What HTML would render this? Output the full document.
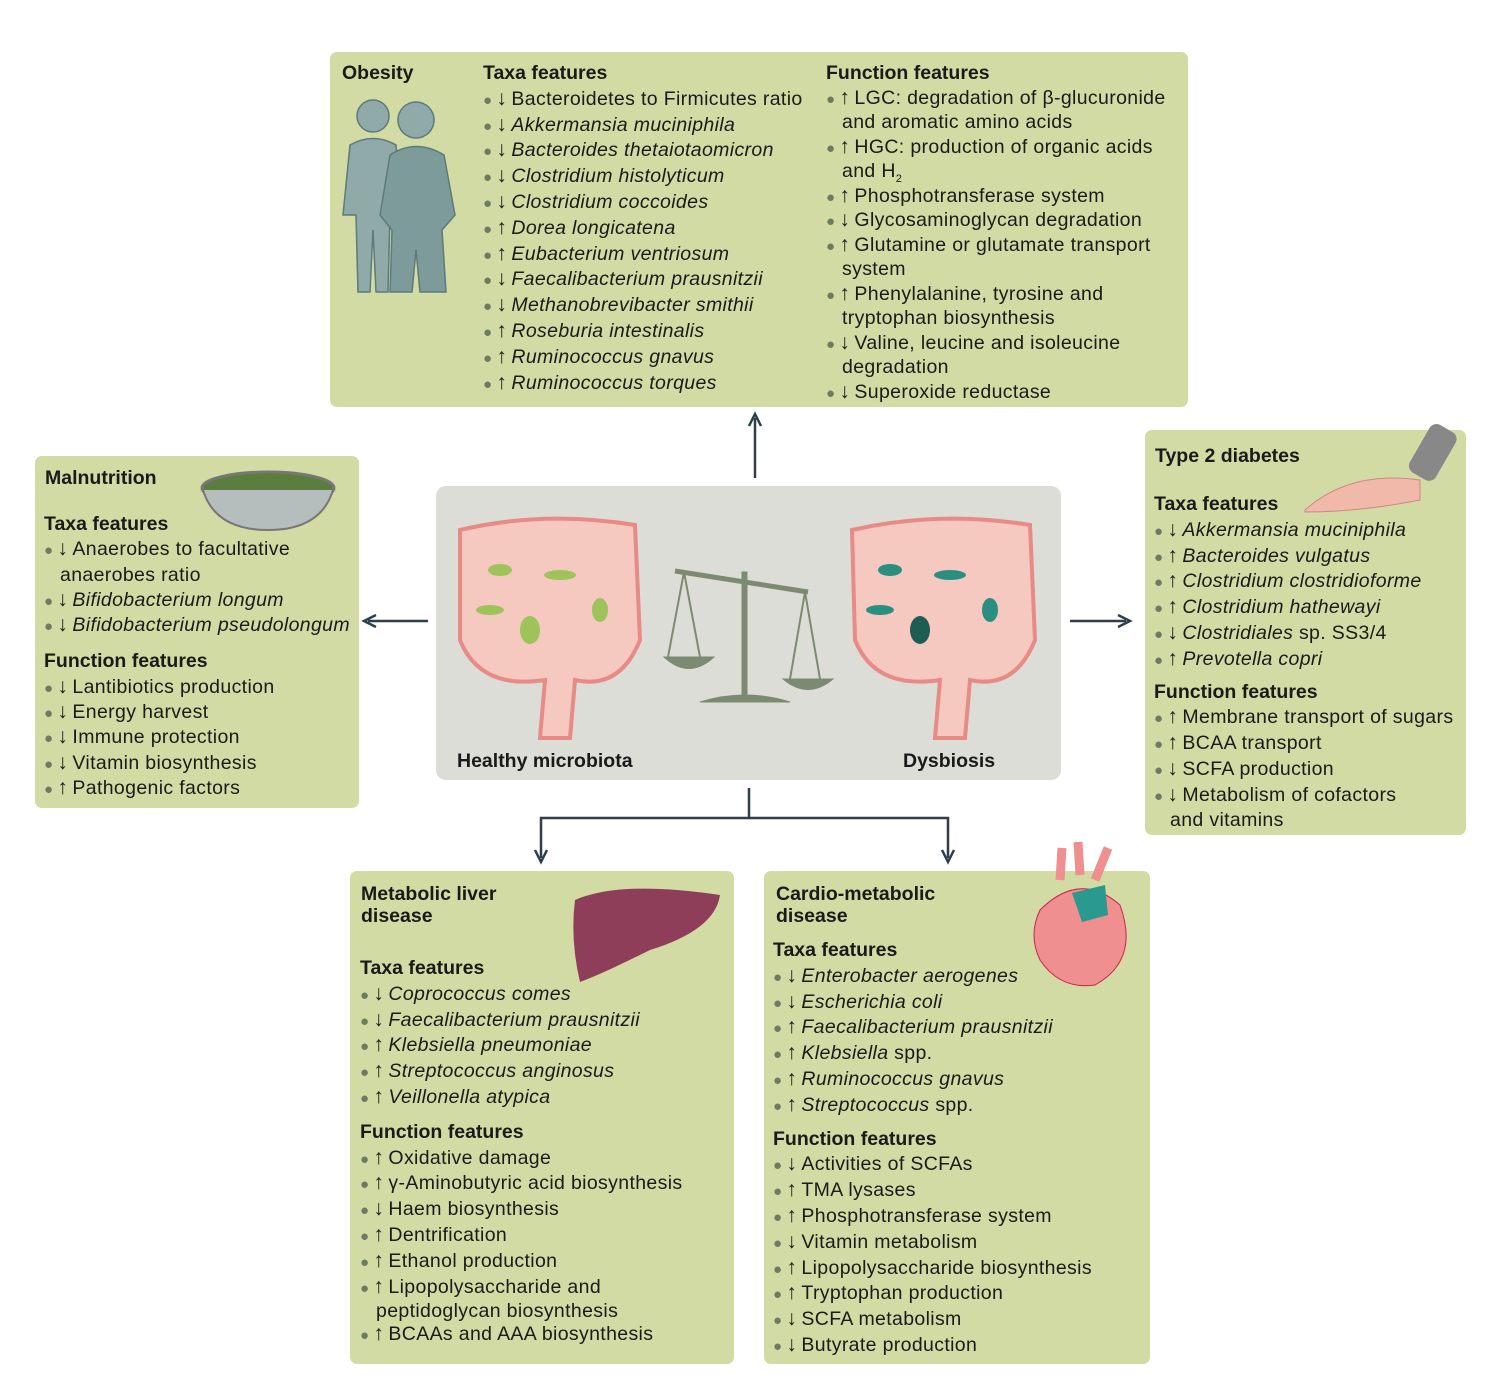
<!DOCTYPE html>
<html><head><meta charset="utf-8"><style>
body{margin:0;width:1488px;height:1384px;background:#fff;position:relative;font-family:"Liberation Sans",sans-serif;color:#1a1a1a;overflow:hidden}
.box{position:absolute;background:#d2dba3;border-radius:7px}
.col{position:absolute;font-size:19.5px;letter-spacing:0.35px;white-space:nowrap}
.col>div{height:var(--lh);line-height:var(--lh);overflow:visible}
.h{font-weight:bold;letter-spacing:0}
.b{color:#6f7a63;margin-right:4px;font-size:15px}
.a{display:inline-block;width:15px;font-size:21px;line-height:0}
.c{padding-left:16px}
.s{--lh:22px}
i{font-style:italic}
svg{position:absolute}
</style></head><body>
<div class="box" style="left:330px;top:52px;width:858px;height:355px"></div>
<div class="box" style="left:35px;top:456px;width:324px;height:352px"></div>
<div class="box" style="left:1145px;top:430px;width:321px;height:405px"></div>
<div class="box" style="left:350px;top:871px;width:384px;height:493px"></div>
<div class="box" style="left:764px;top:871px;width:386px;height:493px"></div>
<div style="position:absolute;left:436px;top:486px;width:625px;height:294px;background:#dcddd6;border-radius:10px"></div>

<svg width="1488" height="1384" style="left:0;top:0">
<g stroke="#2d3f48" stroke-width="2.5" fill="none">
<line x1="755" y1="478" x2="755" y2="418"/><polyline points="749,426 755,414 761,426"/>
<line x1="428" y1="621" x2="368" y2="621"/><polyline points="376,615 364,621 376,627"/>
<line x1="1070" y1="621" x2="1126" y2="621"/><polyline points="1118,615 1130,621 1118,627"/>
<polyline points="749,788 749,818 541,818 541,858"/><polyline points="749,818 948,818 948,858"/>
<polyline points="535,850 541,862 547,850"/><polyline points="942,850 948,862 954,850"/>
</g>
<g fill="#8faaa8" stroke="#5d7a7c" stroke-width="1.5">
<circle cx="373" cy="116" r="16"/><path d="M350 145 Q373 132 396 145 L402 215 L390 215 L388 292 L376 292 L373 230 L370 292 L358 292 L356 215 L343 215 Z"/>
<circle cx="416" cy="120" r="18"/><path d="M390 155 Q416 138 444 155 L455 215 L442 230 L446 292 L420 292 L416 250 L412 292 L390 292 L392 230 L380 215 Z" fill="#7e9b9c"/>
</g>
<ellipse cx="268" cy="488" rx="66" ry="16" fill="#5b7d3e" stroke="#777" stroke-width="3"/>
<path d="M203 490 Q215 530 268 530 Q321 530 333 490" fill="#b6bdbd" stroke="#777" stroke-width="2"/>
<path d="M1305 510 Q1350 470 1420 480 L1420 500 Q1360 512 1305 512 Z" fill="#f0b9a9" stroke="#c88" stroke-width="1"/>
<rect x="1418" y="425" width="30" height="55" rx="8" fill="#888" transform="rotate(30 1433 452)"/>
<path d="M575 900 Q620 880 720 895 Q715 930 650 950 Q600 975 580 982 Q570 940 575 900 Z" fill="#8f3e5a"/>
<path d="M1040 910 Q1080 870 1120 905 Q1140 960 1095 985 Q1060 990 1040 960 Q1028 935 1040 910 Z" fill="#ef8f8f" stroke="#c25" stroke-width="1"/>
<path d="M1060 880 L1062 848 M1080 875 L1078 842 M1095 880 L1108 848" stroke="#ef8f8f" stroke-width="9"/>
<path d="M1072 893 L1105 885 L1108 915 L1082 922 Z" fill="#2a9a8e"/>
<g fill="#f5c8c0" stroke="#e88a86" stroke-width="4">
<path d="M460 530 Q545 510 635 525 L640 640 Q620 690 575 680 L570 738 L540 738 L545 680 Q480 690 460 640 Z"/>
<path d="M852 530 Q940 510 1030 525 L1035 640 Q1015 690 970 680 L965 738 L935 738 L940 680 Q875 690 855 640 Z"/>
</g>
<g fill="#9ec35a"><ellipse cx="500" cy="570" rx="12" ry="6"/><ellipse cx="560" cy="575" rx="16" ry="5"/><ellipse cx="600" cy="610" rx="8" ry="12"/><ellipse cx="530" cy="630" rx="10" ry="14"/><ellipse cx="490" cy="610" rx="14" ry="5"/></g>
<g fill="#2a8f80"><ellipse cx="890" cy="570" rx="12" ry="6"/><ellipse cx="950" cy="575" rx="16" ry="5"/><ellipse cx="990" cy="610" rx="8" ry="12"/><ellipse cx="920" cy="630" rx="10" ry="14" fill="#1e5e52"/><ellipse cx="880" cy="610" rx="14" ry="5"/></g>
<g fill="#7d8a72" stroke="#7d8a72">
<line x1="675" y1="571" x2="808" y2="592" stroke-width="5"/><rect x="742" y="572" width="5" height="130"/>
<path d="M700 702 Q745 688 790 702 Z"/>
<path d="M664 657 Q689 680 714 657 Z"/><path d="M783 679 Q808 700 833 679 Z"/>
<line x1="684" y1="572" x2="668" y2="657" stroke-width="2"/><line x1="684" y1="572" x2="700" y2="657" stroke-width="2"/>
<line x1="805" y1="592" x2="790" y2="679" stroke-width="2"/><line x1="805" y1="592" x2="820" y2="679" stroke-width="2"/>
</g>
</svg>

<div class="col" style="left:342px;top:60px;--lh:26px"><div class="h">Obesity</div></div>
<div class="col" style="left:483px;top:61px;--lh:25.8px">
<div class="h">Taxa features</div>
<div><span class="b">●</span><span class="a">↓</span>Bacteroidetes to Firmicutes ratio</div>
<div><span class="b">●</span><span class="a">↓</span><i>Akkermansia muciniphila</i></div>
<div><span class="b">●</span><span class="a">↓</span><i>Bacteroides thetaiotaomicron</i></div>
<div><span class="b">●</span><span class="a">↓</span><i>Clostridium histolyticum</i></div>
<div><span class="b">●</span><span class="a">↓</span><i>Clostridium coccoides</i></div>
<div><span class="b">●</span><span class="a">↑</span><i>Dorea longicatena</i></div>
<div><span class="b">●</span><span class="a">↑</span><i>Eubacterium ventriosum</i></div>
<div><span class="b">●</span><span class="a">↓</span><i>Faecalibacterium prausnitzii</i></div>
<div><span class="b">●</span><span class="a">↓</span><i>Methanobrevibacter smithii</i></div>
<div><span class="b">●</span><span class="a">↑</span><i>Roseburia intestinalis</i></div>
<div><span class="b">●</span><span class="a">↑</span><i>Ruminococcus gnavus</i></div>
<div><span class="b">●</span><span class="a">↑</span><i>Ruminococcus torques</i></div>
</div>
<div class="col" style="left:826px;top:61px;--lh:24.5px">
<div class="h">Function features</div>
<div><span class="b">●</span><span class="a">↑</span>LGC: degradation of β-glucuronide</div>
<div class="c">and aromatic amino acids</div>
<div><span class="b">●</span><span class="a">↑</span>HGC: production of organic acids</div>
<div class="c">and H<sub style="font-size:11px;line-height:0">2</sub></div>
<div><span class="b">●</span><span class="a">↑</span>Phosphotransferase system</div>
<div><span class="b">●</span><span class="a">↓</span>Glycosaminoglycan degradation</div>
<div><span class="b">●</span><span class="a">↑</span>Glutamine or glutamate transport</div>
<div class="c">system</div>
<div><span class="b">●</span><span class="a">↑</span>Phenylalanine, tyrosine and</div>
<div class="c">tryptophan biosynthesis</div>
<div><span class="b">●</span><span class="a">↓</span>Valine, leucine and isoleucine</div>
<div class="c">degradation</div>
<div><span class="b">●</span><span class="a">↓</span>Superoxide reductase</div>
</div>

<div class="col" style="left:45px;top:465px;--lh:26px"><div class="h">Malnutrition</div></div>
<div class="col" style="left:44px;top:512px;--lh:25.3px">
<div class="h">Taxa features</div>
<div><span class="b">●</span><span class="a">↓</span>Anaerobes to facultative</div>
<div class="c">anaerobes ratio</div>
<div><span class="b">●</span><span class="a">↓</span><i>Bifidobacterium longum</i></div>
<div><span class="b">●</span><span class="a">↓</span><i>Bifidobacterium pseudolongum</i></div>
<div class="h" style="margin-top:11px">Function features</div>
<div><span class="b">●</span><span class="a">↓</span>Lantibiotics production</div>
<div><span class="b">●</span><span class="a">↓</span>Energy harvest</div>
<div><span class="b">●</span><span class="a">↓</span>Immune protection</div>
<div><span class="b">●</span><span class="a">↓</span>Vitamin biosynthesis</div>
<div><span class="b">●</span><span class="a">↑</span>Pathogenic factors</div>
</div>

<div class="col" style="left:1155px;top:443px;--lh:26px"><div class="h">Type 2 diabetes</div></div>
<div class="col" style="left:1154px;top:492px;--lh:25.8px">
<div class="h">Taxa features</div>
<div><span class="b">●</span><span class="a">↓</span><i>Akkermansia muciniphila</i></div>
<div><span class="b">●</span><span class="a">↑</span><i>Bacteroides vulgatus</i></div>
<div><span class="b">●</span><span class="a">↑</span><i>Clostridium clostridioforme</i></div>
<div><span class="b">●</span><span class="a">↑</span><i>Clostridium hathewayi</i></div>
<div><span class="b">●</span><span class="a">↓</span><i>Clostridiales</i> sp. SS3/4</div>
<div><span class="b">●</span><span class="a">↑</span><i>Prevotella copri</i></div>
<div class="h" style="margin-top:7px">Function features</div>
<div><span class="b">●</span><span class="a">↑</span>Membrane transport of sugars</div>
<div><span class="b">●</span><span class="a">↑</span>BCAA transport</div>
<div><span class="b">●</span><span class="a">↓</span>SCFA production</div>
<div><span class="b">●</span><span class="a">↓</span>Metabolism of cofactors</div>
<div class="c s">and vitamins</div>
</div>

<div class="col" style="left:361px;top:883px;--lh:22px"><div class="h">Metabolic liver</div><div class="h">disease</div></div>
<div class="col" style="left:360px;top:956px;--lh:25.8px">
<div class="h">Taxa features</div>
<div><span class="b">●</span><span class="a">↓</span><i>Coprococcus comes</i></div>
<div><span class="b">●</span><span class="a">↓</span><i>Faecalibacterium prausnitzii</i></div>
<div><span class="b">●</span><span class="a">↑</span><i>Klebsiella pneumoniae</i></div>
<div><span class="b">●</span><span class="a">↑</span><i>Streptococcus anginosus</i></div>
<div><span class="b">●</span><span class="a">↑</span><i>Veillonella atypica</i></div>
<div class="h" style="margin-top:9px">Function features</div>
<div><span class="b">●</span><span class="a">↑</span>Oxidative damage</div>
<div><span class="b">●</span><span class="a">↑</span>γ-Aminobutyric acid biosynthesis</div>
<div><span class="b">●</span><span class="a">↓</span>Haem biosynthesis</div>
<div><span class="b">●</span><span class="a">↑</span>Dentrification</div>
<div><span class="b">●</span><span class="a">↑</span>Ethanol production</div>
<div><span class="b">●</span><span class="a">↑</span>Lipopolysaccharide and</div>
<div class="c s">peptidoglycan biosynthesis</div>
<div><span class="b">●</span><span class="a">↑</span>BCAAs and AAA biosynthesis</div>
</div>

<div class="col" style="left:776px;top:883px;--lh:22px"><div class="h">Cardio-metabolic</div><div class="h">disease</div></div>
<div class="col" style="left:773px;top:938px;--lh:25.8px">
<div class="h">Taxa features</div>
<div><span class="b">●</span><span class="a">↓</span><i>Enterobacter aerogenes</i></div>
<div><span class="b">●</span><span class="a">↓</span><i>Escherichia coli</i></div>
<div><span class="b">●</span><span class="a">↑</span><i>Faecalibacterium prausnitzii</i></div>
<div><span class="b">●</span><span class="a">↑</span><i>Klebsiella</i> spp.</div>
<div><span class="b">●</span><span class="a">↑</span><i>Ruminococcus gnavus</i></div>
<div><span class="b">●</span><span class="a">↑</span><i>Streptococcus</i> spp.</div>
<div class="h" style="margin-top:8px">Function features</div>
<div><span class="b">●</span><span class="a">↓</span>Activities of SCFAs</div>
<div><span class="b">●</span><span class="a">↑</span>TMA lysases</div>
<div><span class="b">●</span><span class="a">↑</span>Phosphotransferase system</div>
<div><span class="b">●</span><span class="a">↓</span>Vitamin metabolism</div>
<div><span class="b">●</span><span class="a">↑</span>Lipopolysaccharide biosynthesis</div>
<div><span class="b">●</span><span class="a">↑</span>Tryptophan production</div>
<div><span class="b">●</span><span class="a">↓</span>SCFA metabolism</div>
<div><span class="b">●</span><span class="a">↓</span>Butyrate production</div>
</div>

<div class="col" style="left:457px;top:748px;--lh:26px"><div class="h">Healthy microbiota</div></div>
<div class="col" style="left:903px;top:748px;--lh:26px"><div class="h">Dysbiosis</div></div>
</body></html>
